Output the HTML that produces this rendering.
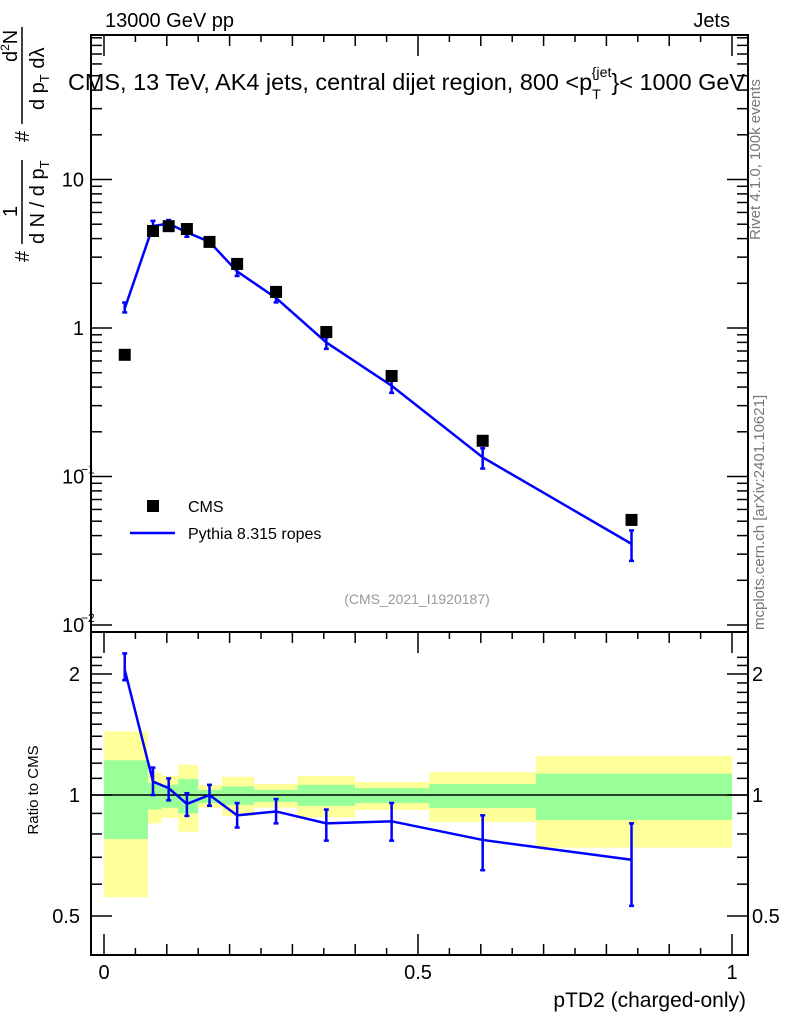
<!DOCTYPE html>
<html><head><meta charset="utf-8"><style>
body{margin:0;background:#fff;}
svg{font-family:"Liberation Sans",sans-serif;}
</style></head><body>
<svg id="c" width="786" height="1024" viewBox="0 0 786 1024" xmlns="http://www.w3.org/2000/svg">
<g id="bands"></g>
<g id="ticks"></g>
<rect x="91" y="35" width="657" height="597" fill="none" stroke="#000" stroke-width="2"/>
<rect x="91" y="632" width="657" height="323" fill="none" stroke="#000" stroke-width="2"/>
<line x1="91" y1="795" x2="748" y2="795" stroke="#000" stroke-width="1.5"/>
<g id="marks"></g>
<text x="105" y="27" font-size="20">13000 GeV pp</text>
<text x="730" y="27" font-size="20" text-anchor="end">Jets</text>
<text x="68" y="90" font-size="23" textLength="677" lengthAdjust="spacingAndGlyphs">CMS, 13 TeV, AK4 jets, central dijet region, 800 &lt;p<tspan font-size="14" dy="9">T</tspan><tspan font-size="14" dy="-22" dx="-9">{jet</tspan><tspan dy="13">}&lt; 1000 GeV</tspan></text>
<g transform="translate(0,272) rotate(-90)">
<text x="10" y="29" font-size="20">#</text>
<line x1="28" y1="22" x2="112" y2="22" stroke="#000" stroke-width="1.5"/>
<text x="55" y="17" font-size="20">1</text>
<text x="28" y="44" font-size="20">d N / d p<tspan font-size="13" dy="5">T</tspan></text>
<text x="130" y="29" font-size="20">#</text>
<line x1="148" y1="22" x2="245" y2="22" stroke="#000" stroke-width="1.5"/>
<text x="210" y="17" font-size="20">d<tspan font-size="12" dy="-8">2</tspan><tspan dy="8">N</tspan></text>
<text x="162" y="44" font-size="20">d p<tspan font-size="13" dy="5">T</tspan><tspan dy="-5"> dλ</tspan></text>
</g>
<text transform="translate(760,240) rotate(-90)" font-size="15" fill="#777">Rivet 4.1.0,  100k events</text>
<text transform="translate(764,630) rotate(-90)" font-size="15" fill="#777">mcplots.cern.ch [arXiv:2401.10621]</text>
<text x="417" y="604" font-size="14" fill="#999" text-anchor="middle">(CMS_2021_I1920187)</text>
<rect x="147" y="500" width="12" height="12" fill="#000"/>
<text x="188" y="512" font-size="16">CMS</text>
<line x1="130" y1="533" x2="175" y2="533" stroke="#00f" stroke-width="2.5"/>
<text x="188" y="539" font-size="16">Pythia 8.315 ropes</text>
<text transform="translate(38,790) rotate(-90)" font-size="15" text-anchor="middle">Ratio to CMS</text>
<text x="746" y="1007" font-size="21" text-anchor="end">pTD2 (charged-only)</text>
</svg>
<script>
const xCenters=[0.033,0.078,0.103,0.132,0.168,0.212,0.274,0.354,0.458,0.603,0.84];
const cmsVals=[0.66,4.5,4.85,4.64,3.8,2.7,1.75,0.94,0.475,0.174,0.051];
const ratioVals=[2.05,1.08,1.04,0.95,1.0,0.89,0.91,0.85,0.86,0.773,0.69];
const ratioErrHi=[2.25,1.17,1.10,1.01,1.06,0.955,0.977,0.92,0.955,0.89,0.85];
const ratioErrLo=[1.93,1.0,0.97,0.887,0.94,0.83,0.85,0.77,0.77,0.65,0.53];
const binEdges=[0,0.07,0.092,0.118,0.150,0.188,0.239,0.308,0.400,0.518,0.688,1.0];
const yellowHi=[1.44,1.14,1.115,1.19,1.06,1.11,1.065,1.115,1.077,1.14,1.25];
const yellowLo=[0.557,0.85,0.877,0.81,0.93,0.887,0.93,0.88,0.918,0.857,0.74];
const greenHi=[1.22,1.07,1.06,1.096,1.03,1.05,1.03,1.06,1.04,1.065,1.13];
const greenLo=[0.777,0.92,0.93,0.90,0.955,0.945,0.96,0.94,0.955,0.928,0.867];
const mainTickLabels=["10","1","10","10"];
const mainTickExp=["","","−1","−2"];
const mainTickVals=[10,1,0.1,0.01];
const ratioTickVals=[0.5,1,2];
const xTickVals=[0,0.5,1];

const NS="http://www.w3.org/2000/svg";
const X=v=>104+628*v;
const YM=v=>328-148.5*Math.log10(v);
const YR=v=>795-402*Math.log10(v);
function mk(p,t,a){const e=document.createElementNS(NS,t);for(const k in a)e.setAttribute(k,a[k]);p.appendChild(e);return e;}
const bands=document.getElementById('bands'),marks=document.getElementById('marks'),ticks=document.getElementById('ticks');
for(let i=0;i<yellowHi.length;i++){
  const x0=X(binEdges[i]),x1=X(binEdges[i+1]);
  let r=mk(bands,'rect',{x:x0,y:YR(yellowHi[i]),width:x1-x0,height:YR(yellowLo[i])-YR(yellowHi[i]),fill:'#ffff99'});
  
  
  r=mk(bands,'rect',{x:x0,y:YR(greenHi[i]),width:x1-x0,height:YR(greenLo[i])-YR(greenHi[i]),fill:'#99ff99'});
  
  
}
const mcVals=cmsVals.map((v,i)=>v*ratioVals[i]);
let pl=mk(marks,'polyline',{points:xCenters.map((x,i)=>X(x)+','+YM(mcVals[i])).join(' '),fill:'none',stroke:'#00f','stroke-width':2.5});


pl=mk(marks,'polyline',{points:xCenters.map((x,i)=>X(x)+','+YR(ratioVals[i])).join(' '),fill:'none',stroke:'#00f','stroke-width':2.5});


function err(x,y1,y2,name){
  const g=mk(marks,'g',{stroke:'#00f','stroke-width':2.5});
  
  
  mk(g,'line',{x1:x,x2:x,y1:y1,y2:y2});
  mk(g,'line',{x1:x-2.5,x2:x+2.5,y1:y1,y2:y1});
  mk(g,'line',{x1:x-2.5,x2:x+2.5,y1:y2,y2:y2});
}
xCenters.forEach((x,i)=>{
  const px=X(x);
  err(px,YM(cmsVals[i]*ratioErrHi[i]),YM(cmsVals[i]*ratioErrLo[i]),'pythia-error');
  err(px,YR(ratioErrHi[i]),YR(ratioErrLo[i]),'ratio-error');
  const s=mk(marks,'rect',{x:px-6,y:YM(cmsVals[i])-6,width:12,height:12,fill:'#000'});
  
  
});
function L(x1,y1,x2,y2){mk(ticks,'line',{x1,y1,x2,y2,stroke:'#000','stroke-width':1.5});}
function T(x,y,s,anchor,size){const t=mk(ticks,'text',{x,y,'font-size':size||20,'text-anchor':anchor});t.textContent=s;return t;}
for(let d=-3;d<=2;d++){for(let m=1;m<10;m++){const v=m*Math.pow(10,d);const y=YM(v);if(y<36||y>631)continue;const len=m==1?20:10;L(92,y,92+len,y);L(747,y,747-len,y);}}
mainTickVals.forEach((v,i)=>{
  if(mainTickExp[i]){
    T(62,YM(v)+7,mainTickLabels[i],'start');
    T(81,YM(v)-3,mainTickExp[i],'start',12);
  } else T(84,YM(v)+7,mainTickLabels[i],'end');
});
[0.5,0.6,0.7,0.8,0.9,1,1.1,1.2,1.3,1.4,1.5,1.6,1.7,1.8,1.9,2,2.1,2.2].forEach(v=>{const y=YR(v);if(y<633||y>954)return;const len=ratioTickVals.includes(v)?20:10;L(92,y,92+len,y);L(747,y,747-len,y);});
ratioTickVals.forEach(v=>{T(80,YR(v)+7,String(v),'end');T(752,YR(v)+7,String(v),'start');});
for(let k=0;k<=20;k++){const v=k*0.05;const len=k%10==0?20:(k%2==0?10:6);L(X(v),954,X(v),954-len);L(X(v),36,X(v),36+len);L(X(v),633,X(v),633+len);}
xTickVals.forEach(v=>T(X(v),979,String(v),'middle'));
</script>
</body></html>
